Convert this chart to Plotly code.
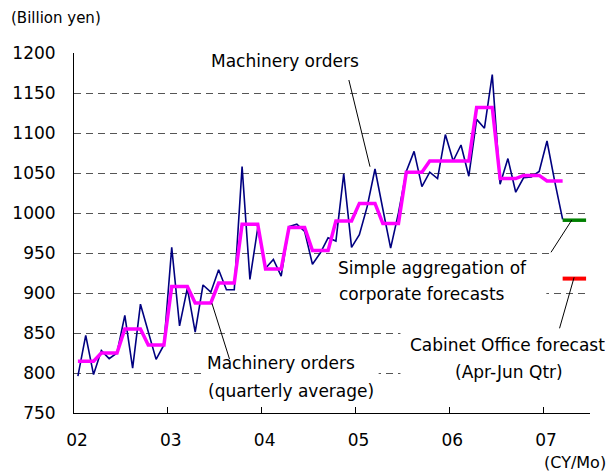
import plotly.graph_objects as go
import numpy as np

# ---------------- data (billion yen) ----------------
# Monthly machinery orders, Jan 2002 .. Mar 2007
orders_2002 = [796, 847, 798, 828, 818, 825, 872, 806, 886, 852, 817, 835]
orders_2003 = [957, 859, 906, 851, 910, 901, 929, 904, 904, 1058, 917, 981]
orders_2004 = [931, 942, 921, 983, 986, 977, 936, 950, 969, 965, 1049, 957]
orders_2005 = [973, 1008, 1055, 1005, 956, 1000, 1052, 1077, 1033, 1051, 1043, 1098]
orders_2006 = [1065, 1085, 1046, 1117, 1106, 1173, 1036, 1068, 1026, 1044, 1045, 1052]
orders_2007 = [1090, 1039, 992]
orders = orders_2002 + orders_2003 + orders_2004 + orders_2005 + orders_2006 + orders_2007

# Quarterly averages, 2002 Q1 .. 2007 Q1 (each spans three months)
quarterly_avg = [814.6, 825, 855, 835,
                 908, 887.5, 912.5, 986,
                 930, 982, 953, 990,
                 1012, 987, 1051, 1065,
                 1065, 1132, 1043, 1047,
                 1040]

# Forecasts for Apr-Jun 2007 quarter, drawn from Mar 2007 to Jun 2007
forecast_months = [62, 65]          # month index (0 = Jan 2002)
corporate_forecast = [991, 991]     # simple aggregation of corporate forecasts
cabinet_forecast = [918, 918]       # Cabinet Office forecast

year_ticks = [0, 12, 24, 36, 48, 60]
year_labels = ["02", "03", "04", "05", "06", "07"]

# ---------------- figure ----------------
W, H = 610, 471
L, R, T, B = 70, 20, 53, 58
PW, PH = W - L - R, H - T - B

def px(x):   # pixel -> paper x
    return (x - L) / PW

def py(y):   # pixel -> paper y
    return (H - B - y) / PH

month_idx = np.arange(len(orders))
x_month = month_idx + 0.5
quarter_line = np.repeat(quarterly_avg, 3)

FONT = "DejaVu Sans"

fig = go.Figure()
fig.add_trace(go.Scatter(x=x_month, y=orders, mode="lines",
                         line=dict(color="#000080", width=1.6),
                         name="Machinery orders"))
fig.add_trace(go.Scatter(x=x_month, y=quarter_line, mode="lines",
                         line=dict(color="#FF00FF", width=3.5),
                         name="Machinery orders (quarterly average)"))
fig.add_trace(go.Scatter(x=np.array(forecast_months) + 0.5, y=corporate_forecast, mode="lines",
                         line=dict(color="#008000", width=3.5),
                         name="Simple aggregation of corporate forecasts"))
fig.add_trace(go.Scatter(x=np.array(forecast_months) + 0.5, y=cabinet_forecast, mode="lines",
                         line=dict(color="#FF0000", width=4),
                         name="Cabinet Office forecast"))

shapes = []
# white boxes hiding gridlines behind text labels
for (x0, y0, x1, y1) in [(198, 362, 377, 384), (399, 330, 592, 382),
                         (322, 286, 546, 300), (553, 249, 592, 257)]:
    shapes.append(dict(type="rect", xref="paper", yref="paper",
                       x0=px(x0), x1=px(x1), y0=py(y1), y1=py(y0),
                       fillcolor="white", line=dict(width=0), layer="above"))
# leader lines
for (x0, y0, x1, y1) in [(347, 80, 368.3, 166.7), (209, 303.3, 226.7, 359),
                         (550.7, 252.3, 571.7, 220), (559.3, 328.3, 574, 277.3)]:
    shapes.append(dict(type="line", xref="paper", yref="paper",
                       x0=px(x0), y0=py(y0), x1=px(x1), y1=py(y1),
                       line=dict(color="black", width=1), layer="above"))

def ann(text, x, y, xanchor="left", size=17):
    return dict(text=text, xref="paper", yref="paper", x=px(x), y=py(y),
                xanchor=xanchor, yanchor="middle", showarrow=False,
                font=dict(family=FONT, size=size, color="black"))

annotations = [
    ann("(Billion yen)", 4, 18.5, size=15),
    ann("Machinery orders", 206, 61),
    ann("Machinery orders", 202, 363),
    ann("(quarterly average)", 203, 391),
    ann("Simple aggregation of", 334, 268),
    ann("corporate forecasts", 335, 294),
    ann("Cabinet Office forecast", 507, 345, xanchor="center"),
    ann("(Apr-Jun Qtr)", 508.5, 372, xanchor="center"),
    ann("(CY/Mo)", 608, 462, xanchor="right", size=16),
]

fig.update_layout(
    width=W, height=H,
    margin=dict(l=L, r=R, t=T, b=B, pad=0),
    paper_bgcolor="white", plot_bgcolor="white",
    showlegend=False,
    font=dict(family=FONT, size=17, color="black"),
    shapes=shapes, annotations=annotations,
    xaxis=dict(range=[0, 66], tickvals=year_ticks, ticktext=year_labels,
               ticks="inside", ticklen=6, tickcolor="black", tickwidth=1,
               showline=True, linecolor="black", linewidth=1,
               showgrid=False, zeroline=False,
               ticklabelstandoff=12, ticklabelshift=3),
    yaxis=dict(range=[750, 1200], tick0=750, dtick=50,
               showline=True, linecolor="black", linewidth=1,
               ticks="", showgrid=True, gridcolor="#555555", gridwidth=1.3,
               griddash="7px,5px", zeroline=False,
               ticklabelstandoff=14),
)

fig.write_html("out.html",
               config={"displayModeBar": False},
               post_script="document.body.style.margin='0px';document.body.style.overflow='hidden';")
